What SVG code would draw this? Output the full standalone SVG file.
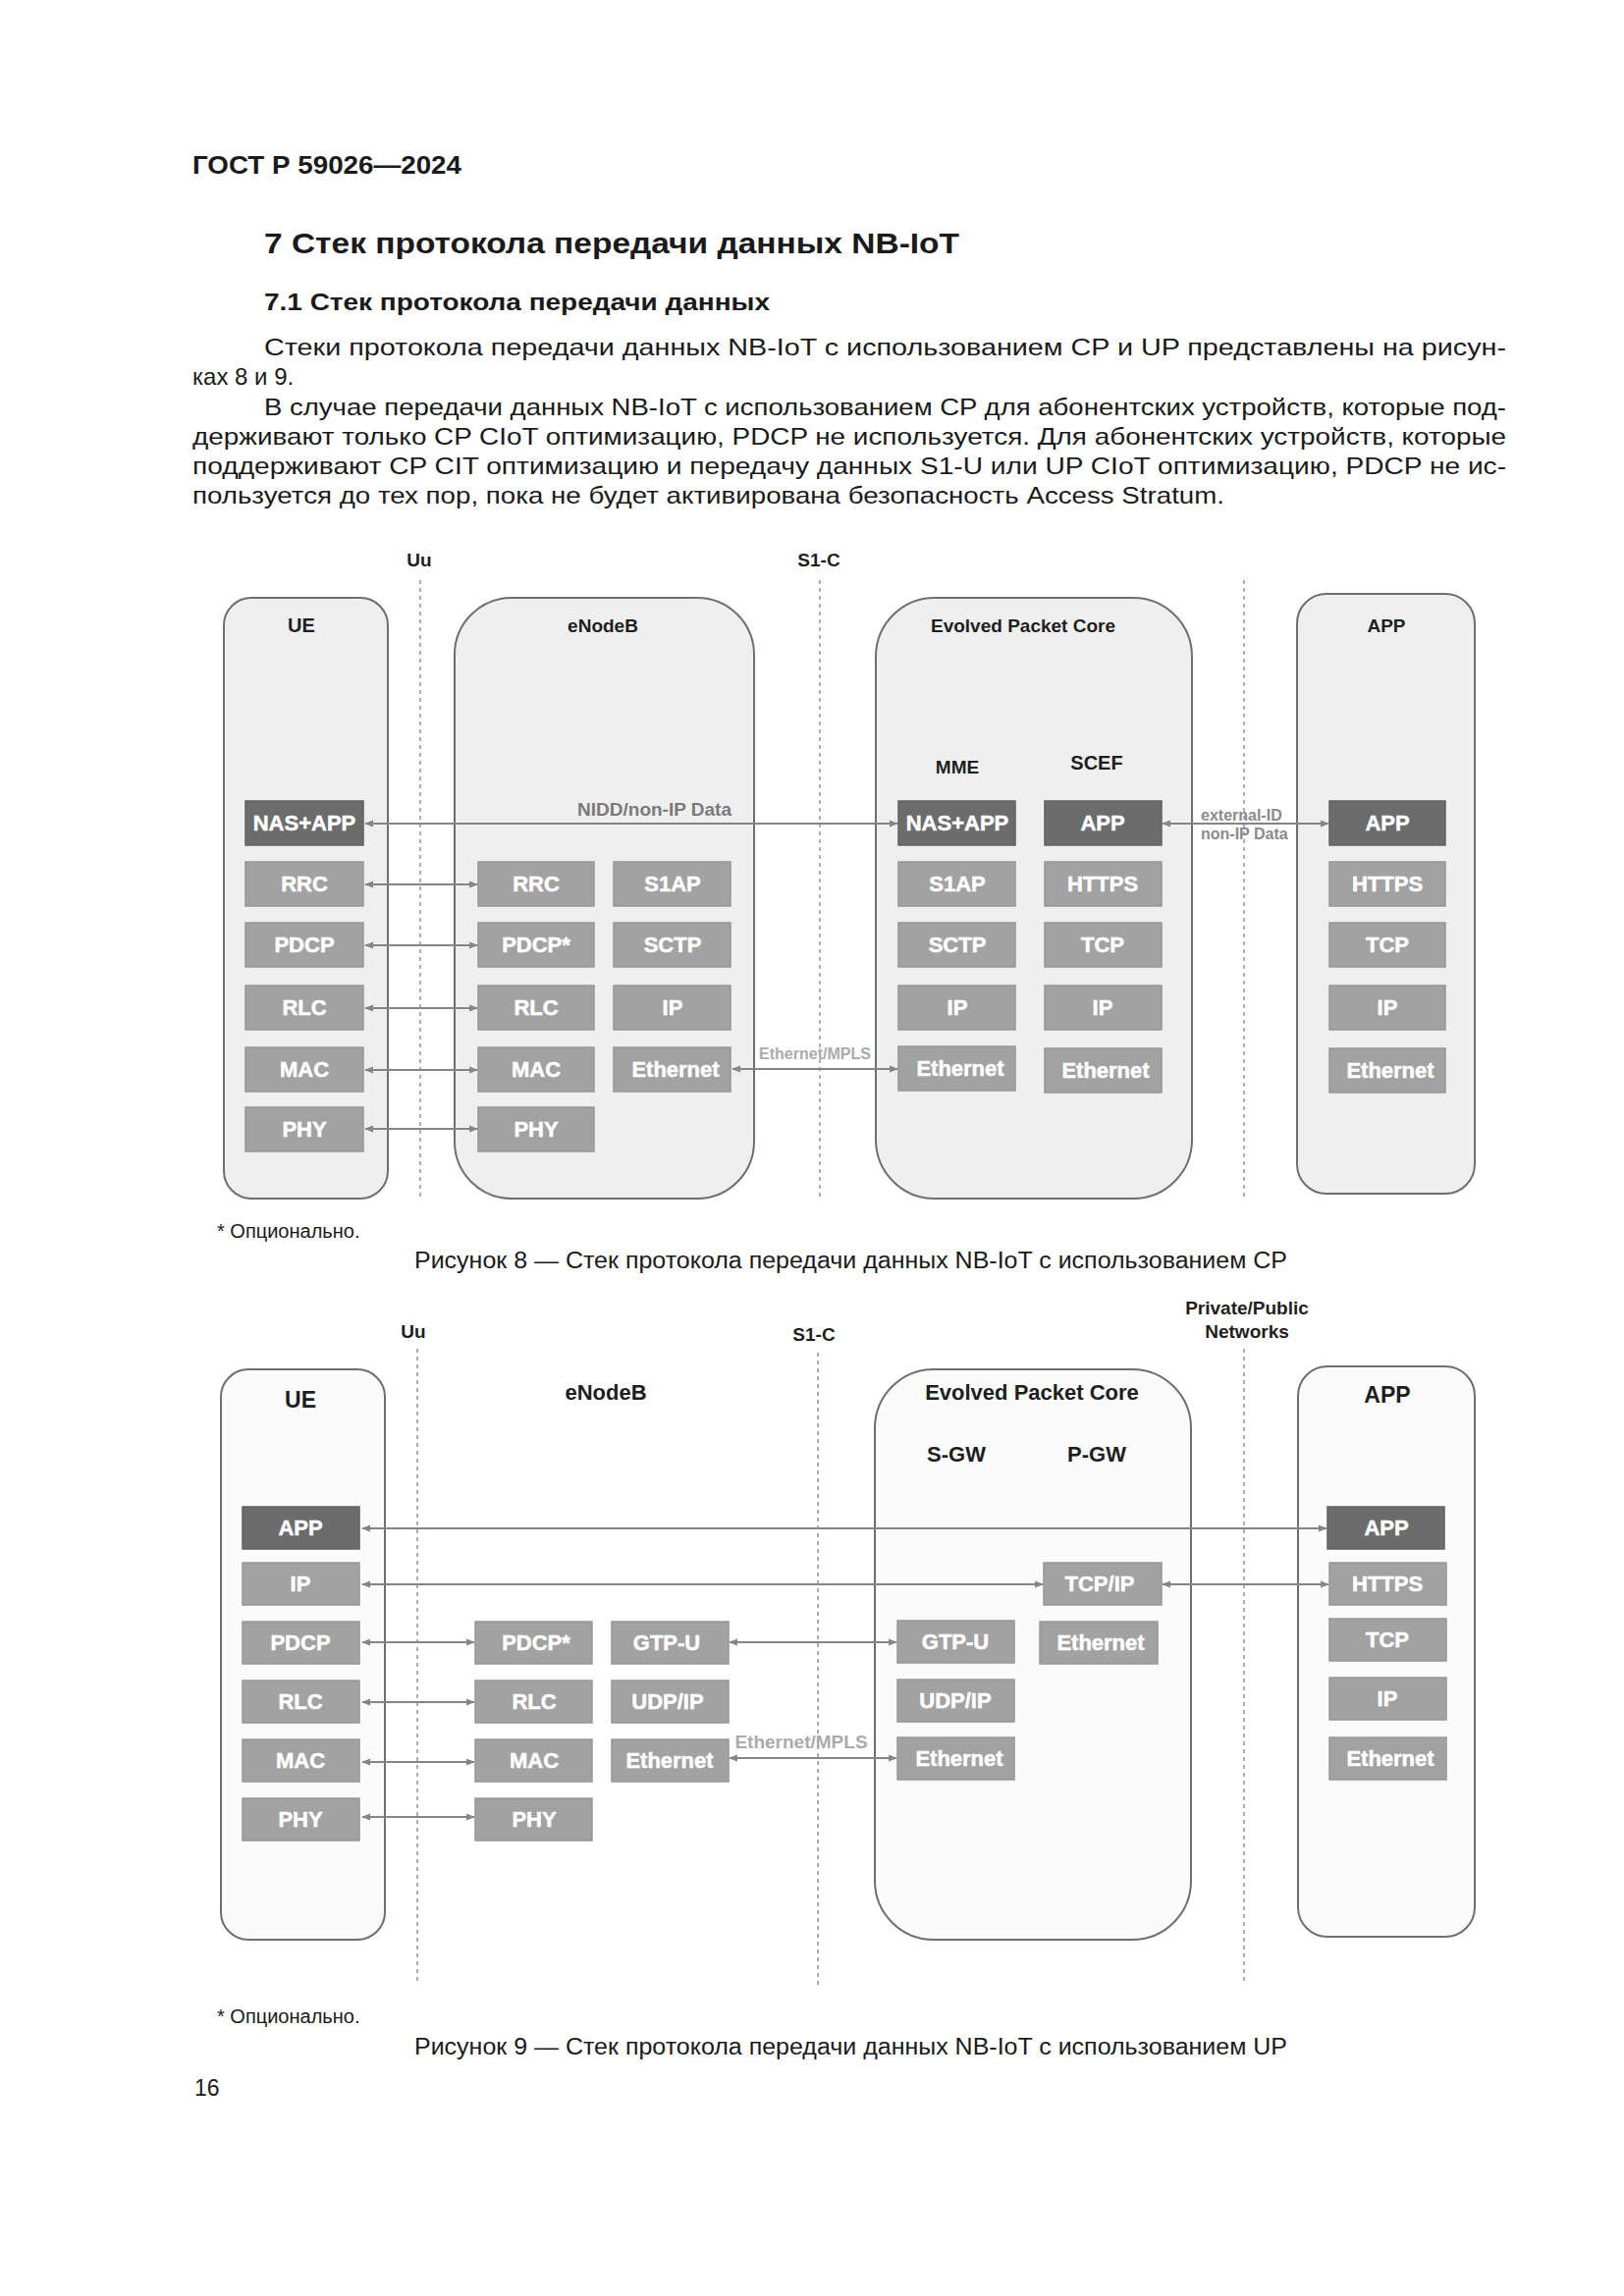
<svg xmlns="http://www.w3.org/2000/svg" width="1654" height="2339" viewBox="0 0 1654 2339">
<defs>
<marker id="ah" viewBox="0 0 10 10" refX="9" refY="5" markerWidth="9" markerHeight="9" markerUnits="userSpaceOnUse" orient="auto-start-reverse">
<path d="M0,1 L10,5 L0,9 z" fill="#858585"/>
</marker>
</defs>
<style>
.doc{font-family:"Liberation Sans",Arial,sans-serif;fill:#1a1a1a}
.b{font-weight:bold}
.big{fill:#efefef;stroke:#6f6f6f;stroke-width:2}
.big9{fill:#fbfbfb;stroke:#6f6f6f;stroke-width:2}
.ly{fill:#a2a2a2;stroke:#969696;stroke-width:1.5}
.dk{fill:#6c6c6c;stroke:#606060;stroke-width:1.5}
.lt{font-family:"Liberation Sans",Arial,sans-serif;font-weight:bold;font-size:22px;fill:#ffffff;stroke:#ffffff;stroke-width:0.5;text-anchor:middle}
.hd{font-family:"Liberation Sans",Arial,sans-serif;font-weight:bold;fill:#1e1e1e;text-anchor:middle}
.dash{stroke:#9a9a9a;stroke-width:1.6;stroke-dasharray:4 4;fill:none}
.ar{stroke:#858585;stroke-width:1.8;fill:none;marker-start:url(#ah);marker-end:url(#ah)}
.al{font-family:"Liberation Sans",Arial,sans-serif;font-weight:bold}
</style>
<rect width="1654" height="2339" fill="#ffffff"/>

<!-- page text -->
<g id="page-text">
<text class="doc b" x="196" y="177" font-size="25" textLength="274" lengthAdjust="spacingAndGlyphs">ГОСТ Р 59026—2024</text>
<text class="doc b" x="269" y="258" font-size="30" textLength="708" lengthAdjust="spacingAndGlyphs">7  Стек протокола передачи данных NB-IoT</text>
<text class="doc b" x="269" y="316" font-size="24" textLength="515" lengthAdjust="spacingAndGlyphs">7.1  Стек протокола передачи данных</text>
<text class="doc" x="269" y="362" font-size="24" textLength="1265" lengthAdjust="spacingAndGlyphs">Стеки протокола передачи данных NB-IoT с использованием CP и UP представлены на рисун-</text>
<text class="doc" x="196" y="392" font-size="24">ках 8 и 9.</text>
<text class="doc" x="269" y="423" font-size="24" textLength="1265" lengthAdjust="spacingAndGlyphs">В случае передачи данных NB-IoT с использованием CP для абонентских устройств, которые под-</text>
<text class="doc" x="196" y="453" font-size="24" textLength="1338" lengthAdjust="spacingAndGlyphs">держивают только CP CIoT оптимизацию, PDCP не используется. Для абонентских устройств, которые</text>
<text class="doc" x="196" y="483" font-size="24" textLength="1338" lengthAdjust="spacingAndGlyphs">поддерживают CP CIT оптимизацию и передачу данных S1-U или UP CIoT оптимизацию, PDCP не ис-</text>
<text class="doc" x="196" y="513" font-size="24" textLength="1051" lengthAdjust="spacingAndGlyphs">пользуется до тех пор, пока не будет активирована безопасность Access Stratum.</text>
</g>

<!-- ============ FIGURE 8 ============ -->
<g id="fig8-interfaces">
<line class="dash" x1="428" y1="591" x2="428" y2="1221"/>
<line class="dash" x1="835" y1="591" x2="835" y2="1221"/>
<line class="dash" x1="1267" y1="591" x2="1267" y2="1221"/>
<text class="hd" x="427" y="577" font-size="19">Uu</text>
<text class="hd" x="834" y="577" font-size="19">S1-C</text>
</g>

<g id="f8-ue">
<rect class="big" x="228" y="609" width="167" height="612" rx="28"/>
<text class="hd" x="307" y="644" font-size="20">UE</text>
<rect class="dk" x="250" y="816" width="120" height="45"/><text class="lt" x="310" y="846">NAS+APP</text>
<rect class="ly" x="250" y="878" width="120" height="45"/><text class="lt" x="310" y="908">RRC</text>
<rect class="ly" x="250" y="940" width="120" height="45"/><text class="lt" x="310" y="970">PDCP</text>
<rect class="ly" x="250" y="1004" width="120" height="45"/><text class="lt" x="310" y="1034">RLC</text>
<rect class="ly" x="250" y="1067" width="120" height="45"/><text class="lt" x="310" y="1097">MAC</text>
<rect class="ly" x="250" y="1128" width="120" height="45"/><text class="lt" x="310" y="1158">PHY</text>
</g>

<g id="f8-enodeb">
<rect class="big" x="463" y="609" width="305" height="612" rx="58"/>
<text class="hd" x="614" y="644" font-size="19">eNodeB</text>
<rect class="ly" x="487" y="878" width="118" height="45"/><text class="lt" x="546" y="908">RRC</text>
<rect class="ly" x="487" y="940" width="118" height="45"/><text class="lt" x="546" y="970">PDCP*</text>
<rect class="ly" x="487" y="1004" width="118" height="45"/><text class="lt" x="546" y="1034">RLC</text>
<rect class="ly" x="487" y="1067" width="118" height="45"/><text class="lt" x="546" y="1097">MAC</text>
<rect class="ly" x="487" y="1128" width="118" height="45"/><text class="lt" x="546" y="1158">PHY</text>
<rect class="ly" x="625" y="878" width="119" height="45"/><text class="lt" x="685" y="908">S1AP</text>
<rect class="ly" x="625" y="940" width="119" height="45"/><text class="lt" x="685" y="970">SCTP</text>
<rect class="ly" x="625" y="1004" width="119" height="45"/><text class="lt" x="685" y="1034">IP</text>
<rect class="ly" x="625" y="1067" width="119" height="45"/><text class="lt" x="688" y="1097">Ethernet</text>
</g>

<g id="f8-epc">
<rect class="big" x="892" y="609" width="322" height="612" rx="60"/>
<text class="hd" x="1042" y="644" font-size="19">Evolved Packet Core</text>
<text class="hd" x="975" y="788" font-size="19">MME</text>
<text class="hd" x="1117" y="784" font-size="20">SCEF</text>
<rect class="dk" x="915" y="816" width="119" height="45"/><text class="lt" x="975" y="846">NAS+APP</text>
<rect class="ly" x="915" y="878" width="119" height="45"/><text class="lt" x="975" y="908">S1AP</text>
<rect class="ly" x="915" y="940" width="119" height="45"/><text class="lt" x="975" y="970">SCTP</text>
<rect class="ly" x="915" y="1004" width="119" height="45"/><text class="lt" x="975" y="1034">IP</text>
<rect class="ly" x="915" y="1066" width="119" height="45"/><text class="lt" x="978" y="1096">Ethernet</text>
<rect class="dk" x="1064" y="816" width="119" height="45"/><text class="lt" x="1123" y="846">APP</text>
<rect class="ly" x="1064" y="878" width="119" height="45"/><text class="lt" x="1123" y="908">HTTPS</text>
<rect class="ly" x="1064" y="940" width="119" height="45"/><text class="lt" x="1123" y="970">TCP</text>
<rect class="ly" x="1064" y="1004" width="119" height="45"/><text class="lt" x="1123" y="1034">IP</text>
<rect class="ly" x="1064" y="1068" width="119" height="45"/><text class="lt" x="1126" y="1098">Ethernet</text>
</g>

<g id="f8-app">
<rect class="big" x="1321" y="605" width="181" height="611" rx="30"/>
<text class="hd" x="1412" y="644" font-size="19">APP</text>
<rect class="dk" x="1354" y="816" width="118" height="45"/><text class="lt" x="1413" y="846">APP</text>
<rect class="ly" x="1354" y="878" width="118" height="45"/><text class="lt" x="1413" y="908">HTTPS</text>
<rect class="ly" x="1354" y="940" width="118" height="45"/><text class="lt" x="1413" y="970">TCP</text>
<rect class="ly" x="1354" y="1004" width="118" height="45"/><text class="lt" x="1413" y="1034">IP</text>
<rect class="ly" x="1354" y="1068" width="118" height="45"/><text class="lt" x="1416" y="1098">Ethernet</text>
</g>

<g id="f8-connectors">
<line class="ar" x1="372" y1="839" x2="914" y2="839" stroke="#777"/>
<line class="ar" x1="372" y1="901" x2="486" y2="901"/>
<line class="ar" x1="372" y1="963" x2="486" y2="963"/>
<line class="ar" x1="372" y1="1027" x2="486" y2="1027"/>
<line class="ar" x1="372" y1="1090" x2="486" y2="1090"/>
<line class="ar" x1="372" y1="1150" x2="486" y2="1150"/>
<line class="ar" x1="746" y1="1089" x2="914" y2="1089"/>
<line class="ar" x1="1184" y1="839" x2="1353" y2="839"/>
<text class="al" x="745" y="831" font-size="19" fill="#7a7a7a" text-anchor="end">NIDD/non-IP Data</text>
<text class="al" x="830" y="1079" font-size="16" fill="#ababab" text-anchor="middle">Ethernet/MPLS</text>
<text class="al" x="1223" y="836" font-size="16" fill="#8a8a8a">external-ID</text>
<text class="al" x="1223" y="855" font-size="16" fill="#8a8a8a">non-IP Data</text>
</g>

<g id="fig8-caption">
<text class="doc" x="221" y="1261" font-size="20">* Опционально.</text>
<text class="doc" x="422" y="1292" font-size="23" textLength="889" lengthAdjust="spacingAndGlyphs">Рисунок 8 — Стек протокола передачи данных NB-IoT с использованием CP</text>
</g>

<!-- ============ FIGURE 9 ============ -->
<g id="fig9-interfaces">
<line class="dash" x1="425" y1="1374" x2="425" y2="2022"/>
<line class="dash" x1="833" y1="1378" x2="833" y2="2022"/>
<line class="dash" x1="1267" y1="1374" x2="1267" y2="2022"/>
<text class="hd" x="421" y="1363" font-size="19">Uu</text>
<text class="hd" x="829" y="1366" font-size="19">S1-C</text>
<text class="hd" x="1270" y="1339" font-size="19">Private/Public</text>
<text class="hd" x="1270" y="1363" font-size="19">Networks</text>
</g>

<g id="f9-ue">
<rect class="big9" x="225" y="1395" width="167" height="581" rx="28"/>
<text class="hd" x="306" y="1434" font-size="23">UE</text>
<rect class="dk" x="247" y="1535" width="119" height="43"/><text class="lt" x="306" y="1564">APP</text>
<rect class="ly" x="247" y="1592" width="119" height="43"/><text class="lt" x="306" y="1621">IP</text>
<rect class="ly" x="247" y="1652" width="119" height="43"/><text class="lt" x="306" y="1681">PDCP</text>
<rect class="ly" x="247" y="1712" width="119" height="43"/><text class="lt" x="306" y="1741">RLC</text>
<rect class="ly" x="247" y="1772" width="119" height="43"/><text class="lt" x="306" y="1801">MAC</text>
<rect class="ly" x="247" y="1832" width="119" height="43"/><text class="lt" x="306" y="1861">PHY</text>
</g>

<g id="f9-enodeb">
<text class="hd" x="617" y="1426" font-size="22">eNodeB</text>
<rect class="ly" x="484" y="1652" width="119" height="43"/><text class="lt" x="546" y="1681">PDCP*</text>
<rect class="ly" x="484" y="1712" width="119" height="43"/><text class="lt" x="544" y="1741">RLC</text>
<rect class="ly" x="484" y="1772" width="119" height="43"/><text class="lt" x="544" y="1801">MAC</text>
<rect class="ly" x="484" y="1832" width="119" height="43"/><text class="lt" x="544" y="1861">PHY</text>
<rect class="ly" x="623" y="1652" width="119" height="43"/><text class="lt" x="679" y="1681">GTP-U</text>
<rect class="ly" x="623" y="1712" width="119" height="43"/><text class="lt" x="680" y="1741">UDP/IP</text>
<rect class="ly" x="623" y="1772" width="119" height="43"/><text class="lt" x="682" y="1801">Ethernet</text>
</g>

<g id="f9-epc">
<rect class="big9" x="891" y="1395" width="322" height="581" rx="60"/>
<text class="hd" x="1051" y="1426" font-size="22">Evolved Packet Core</text>
<text class="hd" x="974" y="1489" font-size="22">S-GW</text>
<text class="hd" x="1117" y="1489" font-size="22">P-GW</text>
<rect class="ly" x="914" y="1651" width="119" height="43"/><text class="lt" x="973" y="1680">GTP-U</text>
<rect class="ly" x="914" y="1711" width="119" height="43"/><text class="lt" x="973" y="1740">UDP/IP</text>
<rect class="ly" x="914" y="1770" width="119" height="43"/><text class="lt" x="977" y="1799">Ethernet</text>
<rect class="ly" x="1063" y="1592" width="120" height="43"/><text class="lt" x="1120" y="1621">TCP/IP</text>
<rect class="ly" x="1059" y="1652" width="120" height="43"/><text class="lt" x="1121" y="1681">Ethernet</text>
</g>

<g id="f9-app">
<rect class="big9" x="1322" y="1392" width="180" height="581" rx="30"/>
<text class="hd" x="1413" y="1429" font-size="23">APP</text>
<rect class="dk" x="1352" y="1535" width="119" height="43"/><text class="lt" x="1412" y="1564">APP</text>
<rect class="ly" x="1354" y="1592" width="119" height="43"/><text class="lt" x="1413" y="1621">HTTPS</text>
<rect class="ly" x="1354" y="1649" width="119" height="43"/><text class="lt" x="1413" y="1678">TCP</text>
<rect class="ly" x="1354" y="1709" width="119" height="43"/><text class="lt" x="1413" y="1738">IP</text>
<rect class="ly" x="1354" y="1770" width="119" height="43"/><text class="lt" x="1416" y="1799">Ethernet</text>
</g>

<g id="f9-connectors">
<line class="ar" x1="369" y1="1557" x2="1351" y2="1557" stroke="#777"/>
<line class="ar" x1="369" y1="1614" x2="1062" y2="1614"/>
<line class="ar" x1="1184" y1="1614" x2="1353" y2="1614"/>
<line class="ar" x1="369" y1="1673" x2="483" y2="1673"/>
<line class="ar" x1="369" y1="1734" x2="483" y2="1734"/>
<line class="ar" x1="369" y1="1795" x2="483" y2="1795"/>
<line class="ar" x1="369" y1="1851" x2="483" y2="1851"/>
<line class="ar" x1="743" y1="1673" x2="913" y2="1673"/>
<line class="ar" x1="743" y1="1791" x2="913" y2="1791"/>
<text class="al" x="816" y="1781" font-size="19" fill="#ababab" text-anchor="middle">Ethernet/MPLS</text>
</g>

<g id="fig9-caption">
<text class="doc" x="221" y="2061" font-size="20">* Опционально.</text>
<text class="doc" x="422" y="2093" font-size="23" textLength="889" lengthAdjust="spacingAndGlyphs">Рисунок 9 — Стек протокола передачи данных NB-IoT с использованием UP</text>
<text class="doc" x="198" y="2135" font-size="23">16</text>
</g>
</svg>
